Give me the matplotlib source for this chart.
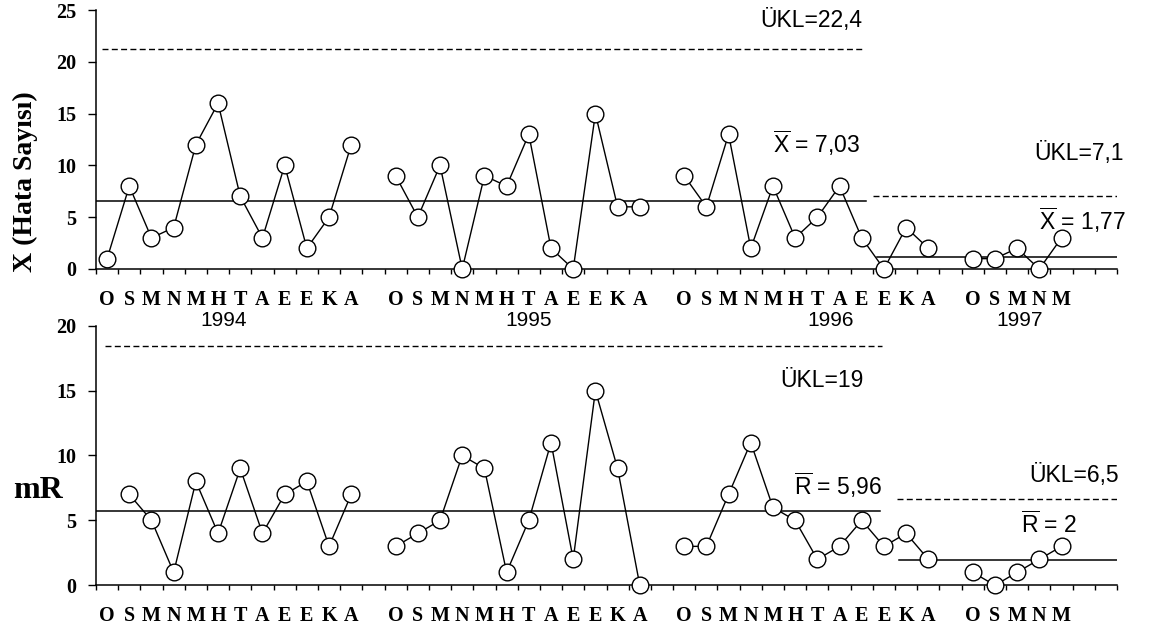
import matplotlib
matplotlib.use('Agg')
import matplotlib.pyplot as plt

# Yazi tipleri: etiketler icin Times benzeri kalin, notlar icin Arial benzeri
serif = 'Liberation Serif'
sans = 'Liberation Sans'
plt.rcParams['mathtext.fontset'] = 'custom'
plt.rcParams['mathtext.rm'] = sans
plt.rcParams['mathtext.it'] = sans

# Aylar ve yillar
aylar = ['O', 'S', 'M', 'N', 'M', 'H', 'T', 'A', 'E', 'E', 'K', 'A']
yillar = ['1994', '1995', '1996', '1997']
yil_baslangic = [0, 13, 26, 39]      # her yilin ilk ay kutusu
ay_sayisi = [12, 12, 12, 5]

# X (hata sayisi) degerleri
x_1994 = [1, 8, 3, 4, 12, 16, 7, 3, 10, 2, 5, 12]
x_1995 = [9, 5, 10, 0, 9, 8, 13, 2, 0, 15, 6, 6]
x_1996 = [9, 6, 13, 2, 8, 3, 5, 8, 3, 0, 4, 2]
x_1997 = [1, 1, 2, 0, 3]

# hareketli aralik (mR) degerleri
mr_1994 = [7, 5, 1, 8, 4, 9, 4, 7, 8, 3, 7]
mr_1995 = [3, 4, 5, 10, 9, 1, 5, 11, 2, 15, 9, 0]
mr_1996 = [3, 3, 7, 11, 6, 5, 2, 3, 5, 3, 4, 2]
mr_1997 = [1, 0, 1, 2, 3]
mr_ilk_ay = [1, 0, 0, 0]             # 1994'te mR subattan baslar

# kontrol cizgileri (resimde cizildigi seviyeler)
x_ort = [6.6, 1.2]
x_ukl = [21.2, 7.0]
mr_ort = [5.72, 1.93]
mr_ukl = [18.45, 6.65]

x_notlar = ['ÜKL=22,4', r'$\overline{\mathrm{X}}$ = 7,03', 'ÜKL=7,1', r'$\overline{\mathrm{X}}$ = 1,77']
mr_notlar = ['ÜKL=19', r'$\overline{\mathrm{R}}$ = 5,96', 'ÜKL=6,5', r'$\overline{\mathrm{R}}$ = 2']

W, H = 1151, 630
fig = plt.figure(figsize=(W / 100, H / 100), dpi=100)
ax1 = fig.add_axes([96 / W, (H - 269) / H, 1021 / W, 259 / H])
ax2 = fig.add_axes([96 / W, (H - 585.3) / H, 1021 / W, 259.6 / H])

ay_konum = []
ay_etiket = []
for bas, n in zip(yil_baslangic, ay_sayisi):
    ay_konum += [bas + i + 0.5 for i in range(n)]
    ay_etiket += aylar[:n]


def eksen_duzenle(ax, ymax):
    ax.set_xlim(0, 46)
    ax.set_ylim(0, ymax)
    ax.spines['top'].set_visible(False)
    ax.spines['right'].set_visible(False)
    for s in ['left', 'bottom']:
        ax.spines[s].set_linewidth(1.1)
    ax.set_xticks(range(0, 47))
    ax.set_xticklabels([])
    ax.tick_params(axis='x', which='major', direction='out', length=3.6, width=1)
    ax.set_xticks(ay_konum, ay_etiket, minor=True, fontfamily=serif,
                  fontweight='bold', fontsize=14.5)
    ax.tick_params(axis='x', which='minor', length=0, pad=15)
    ax.set_yticks(range(0, ymax + 1, 5))
    ax.set_yticklabels([str(v) for v in range(0, ymax + 1, 5)], fontfamily=serif,
                       fontweight='bold', fontsize=14.5)
    ax.tick_params(axis='y', direction='out', length=6, width=1, pad=8)


def seri_ciz(ax, xs, ys):
    ax.plot(xs, ys, '-o', color='black', lw=1, ms=12, mfc='white', mec='black',
            mew=1, clip_on=False, zorder=3)


def yatay(ax, y, x0, x1, kesikli=False):
    if kesikli:
        ax.plot([x0, x1], [y, y], color='black', lw=1, dashes=(4.3, 2.4), zorder=2)
    else:
        ax.plot([x0, x1], [y, y], color='black', lw=1.1, zorder=2)


eksen_duzenle(ax1, 25)
eksen_duzenle(ax2, 20)

# ust grafik: X
for bas, vals in zip(yil_baslangic, [x_1994, x_1995, x_1996, x_1997]):
    seri_ciz(ax1, [bas + i + 0.5 for i in range(len(vals))], vals)

yatay(ax1, x_ort[0], 0, 34.7)
yatay(ax1, x_ukl[0], 0.25, 34.5, kesikli=True)
yatay(ax1, x_ort[1], 35.2, 46)
yatay(ax1, x_ukl[1], 35.0, 46.1, kesikli=True)

for (xp, yp), t in zip([(34.5, 23.4), (34.4, 11.2), (46.3, 10.5), (46.4, 3.76)], x_notlar):
    ax1.text(xp, yp, t, ha='right', va='baseline', fontsize=16.5, fontfamily=sans)

# yil etiketleri
for xp, y in zip([5.75, 19.5, 33.1, 41.6], yillar):
    ax1.text(xp, -0.22, y, transform=ax1.get_xaxis_transform(), ha='center',
             va='baseline', fontsize=15, fontfamily=sans)

# alt grafik: mR
for bas, ilk, vals in zip(yil_baslangic, mr_ilk_ay, [mr_1994, mr_1995, mr_1996, mr_1997]):
    seri_ciz(ax2, [bas + ilk + i + 0.5 for i in range(len(vals))], vals)

yatay(ax2, mr_ort[0], 0, 35.3)
yatay(ax2, mr_ukl[0], 0.4, 35.4, kesikli=True)
yatay(ax2, mr_ort[1], 36.2, 46.2)
yatay(ax2, mr_ukl[1], 36.1, 46.2, kesikli=True)

for (xp, yp), t in zip([(34.6, 15.3), (35.4, 6.96), (46.1, 7.98), (44.2, 4.0)], mr_notlar):
    ax2.text(xp, yp, t, ha='right', va='baseline', fontsize=16.5, fontfamily=sans)

fig.text(25 / W, 1 - 182 / H, 'X (Hata Sayısı)', rotation=90, ha='center', va='center',
         fontsize=20, fontweight='bold', fontfamily=serif)
fig.text(38 / W, 1 - 491 / H, 'mR', ha='center', va='center',
         fontsize=23, fontweight='bold', fontfamily=serif)

fig.savefig('out.png', dpi=100)
